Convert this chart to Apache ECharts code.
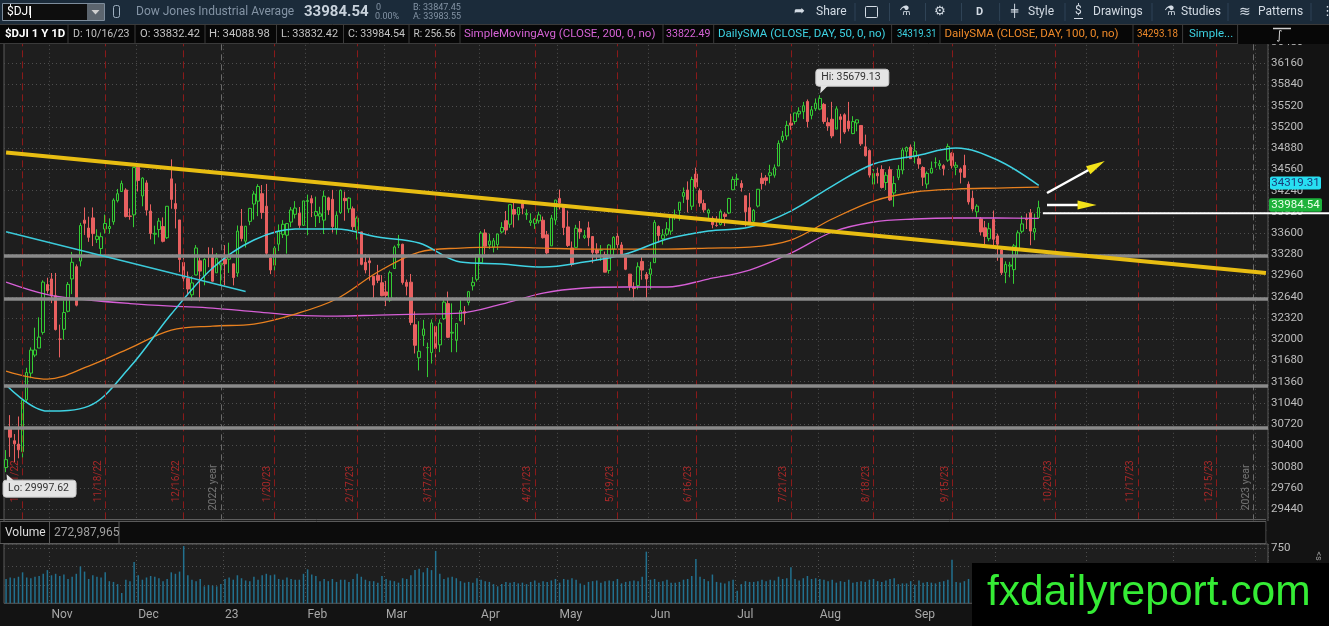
<!DOCTYPE html>
<html><head><meta charset="utf-8">
<script src="https://cdn.jsdelivr.net/npm/echarts/dist/echarts.min.js"></script>
<style>html,body{margin:0;padding:0;background:#131313;overflow:hidden}#c{width:1329px;height:626px}</style>
</head><body><div id="c"></div><script>
// ---------- categories (trading days) ----------
const HOLIDAYS = ['2022-11-24','2022-12-26','2023-01-02','2023-01-16','2023-02-20','2023-04-07','2023-05-29','2023-06-19','2023-07-04','2023-09-04','2023-11-23','2023-12-25','2024-01-01'];
const N_SLOTS = 306;
function buildDates(){const out=[];const d=new Date(Date.UTC(2022,9,17));while(out.length<N_SLOTS){const wd=d.getUTCDay();const s=d.toISOString().slice(0,10);if(wd!==0&&wd!==6&&HOLIDAYS.indexOf(s)<0)out.push(s);d.setUTCDate(d.getUTCDate()+1);}return out;}
const dates = buildDates();
const monthNames = ['23','Feb','Mar','Apr','May','Jun','Jul','Aug','Sep','Oct','Nov','Dec'];

// ---------- daily OHLC [open, high, low, close] ----------
const ohlc = [
// Oct 2022
[30066,30330,29997.62,30185.82],[30649,30857,30227,30523.8],[30471,30571,30148,30423.81],[30420,30836,30206,30333.59],[30305,31120,30207,31082.56],[31087,31570,31049,31499.62],[31490,31878,31413,31836.74],[31762,32175,31730,31839.11],[31868,32331,31868,32033.28],[32104,32889,32070,32861.8],[32825,32928,32689,32732.95],
// Nov
[32910,32999,32545,32653.2],[32656,33000,32132,32147.76],[32002,32221,31727,32001.25],[32150,32584,31995,32403.22],[32422,32863,32406,32827],[32910,33317,32681,33160.83],[33095,33128,32496,32513.94],[33179,33755,33099,33715.37],[33796,33987,33574,33747.86],[33677,33848,33469,33536.7],[33830,33987,33405,33592.92],[33506,33658,33452,33553.83],[33368,33609,33280,33546.32],[33662,33880,33596,33745.69],[33670,33823,33592,33700.28],[33771,34125,33726,34098.1],[34089,34266,34062,34194.06],[34228,34392,34228,34347.03],[34250,34277,33837,33849.46],[33859,33973,33802,33852.53],[33876,34590,33690,34589.77],
// Dec
[34593,34595,34228,34395.01],[34161,34443,34005,34429.88],[34357,34397,33865,33947.1],[33933,34034,33505,33596.34],[33584,33712,33433,33597.92],[33654,33829,33536,33781.48],[33699,33837,33461,33476.46],[33531,34009,33513,34005.04],[34418,34712,33968,34108.64],[34045,34349,33671,33966.35],[33799,33799,33011,33202.22],[33157,33227,32757,32920.46],[32918,33022,32661,32757.54],[32670,32950,32580,32849.74],[32970,33420,32964,33376.48],[33183,33234,32573,33027.49],[32961,33224,32814,33203.93],[33264,33387,33087,33241.56],[33265,33379,32869,32875.71],[33002,33299,33002,33220.8],[33121,33148,32813,33147.25],
// Jan 2023
[33211,33419,32813,33136.37],[33207,33456,32999,33269.77],[33137,33141,32812,32930.08],[32999,33715,32941,33630.61],[33706,33964,33476,33517.65],[33479,33709,33383,33704.1],[33778,33981,33720,33973.01],[34039,34232,33804,34189.97],[34082,34337,33856,34302.61],[34195,34325,33816,33910.85],[34006,34342,33270,33296.96],[33227,33278,32982,33044.56],[33117,33406,32987,33375.49],[33434,33731,33330,33629.56],[33582,33796,33527,33733.96],[33569,33754,33291,33743.84],[33767,33993,33690,33949.41],[33884,34083,33821,33978.08],[33901,33994,33678,33717.09],[33718,34087,33709,34086.04],
// Feb
[34077,34181,33568,34092.96],[34120,34171,33842,34053.94],[33863,34150,33692,33926.01],[33855,33998,33753,33891.02],[33796,34241,33586,34156.69],[34132,34149,33875,33949.01],[34110,34252,33609,33699.88],[33670,33928,33579,33869.27],[33910,34257,33890,34245.93],[34125,34226,33788,34089.27],[33966,34143,33903,34128.05],[33967,34002,33645,33696.85],[33645,33852,33504,33826.69],[33619,33621,33116,33129.59],[33160,33284,32993,33045.09],[33182,33272,32884,33153.91],[32950,32954,32592,32816.92],[32965,33122,32847,32889.09],[32852,32966,32650,32656.7],
// Mar
[32714,32880,32500,32661.84],[32589,33034,32565,33003.57],[33067,33414,33067,33390.97],[33419,33573,33375,33431.44],[33433,33440,32824,32856.46],[32859,32900,32661,32798.4],[32861,32985,32213,32254.86],[32219,32421,31786,31909.64],[31721,32273,31530,31819.14],[32059,32293,31897,32155.4],[31873,31950,31430,31874.57],[31800,32300,31634,32246.55],[32192,32192,31726,31861.98],[31916,32301,31806,32244.58],[32310,32617,32291,32560.6],[32538,32719,32022,32030.11],[32093,32541,31805,32105.25],[31984,32238,31805,32237.53],[32280,32607,32270,32432.08],[32418,32500,32218,32394.25],[32555,32729,32511,32717.6],[32806,32940,32735,32859.03],[32904,33274,32870,33274.15],
// Apr
[33155,33631,33155,33601.15],[33603,33659,33286,33402.38],[33422,33592,33363,33482.72],[33390,33527,33309,33485.29],[33428,33593,33348,33586.52],[33618,33765,33596,33684.79],[33788,33934,33578,33646.5],[33734,34031,33681,34029.69],[33956,34082,33685,33886.47],[33879,33988,33793,33987.18],[34049,34102,33885,33976.63],[33878,33960,33801,33897.01],[33760,33899,33709,33786.62],[33748,33830,33664,33808.96],[33785,33923,33745,33875.4],[33795,33850,33519,33530.83],[33575,33633,33277,33301.87],[33409,33875,33409,33826.16],[33797,34104,33725,34098.16],
// May
[34124,34257,33958,34051.7],[33991,33997,33570,33684.53],[33694,33939,33391,33414.24],[33377,33474,33099,33127.74],[33385,33725,33385,33674.38],[33664,33783,33515,33618.69],[33536,33648,33512,33561.81],[33681,33773,33404,33531.33],[33550,33555,33147,33309.51],[33350,33448,33193,33300.62],[33342,33420,33181,33348.6],[33277,33323,33012,33012.14],[33038,33434,32990,33420.77],[33360,33553,33258,33535.91],[33553,33652,33379,33426.63],[33422,33465,33248,33286.58],[33255,33262,33042,33055.51],[32982,32982,32734,32799.92],[32781,32860,32586,32764.65],[32810,33160,32752,33093.34],[33174,33245,32898,33042.78],[32977,33013,32586,32908.27],
// Jun
[32980,33167,32754,33061.57],[33155,33797,33155,33762.76],[33700,33716,33461,33562.86],[33516,33661,33427,33573.28],[33584,33767,33555,33665.02],[33631,33850,33575,33833.61],[33846,33956,33800,33876.78],[33942,34067,33788,34066.33],[34155,34288,34055,34212.12],[34251,34380,33912,34108.64],[34006,34450,33950,34408.06],[34490,34588,34274,34299.12],[34241,34274,33997,34053.87],[34047,34105,33911,33951.52],[33903,33968,33800,33946.71],[33823,33854,33673,33727.43],[33718,33855,33695,33714.71],[33729,33957,33715,33926.74],[33886,33914,33707,33852.66],[33904,34133,33888,34122.42],[34254,34454,34254,34407.6],
// Jul
[34410,34495,34312,34418.47],[34348,34397,34225,34288.64],[34164,34164,33701,33922.26],[33984,34207,33727,33734.88],[33780,33963,33714,33944.4],[34008,34266,33987,34261.42],[34428,34510,34257,34347.43],[34435,34474,34320,34395.14],[34471,34630,34350,34509.03],[34473,34635,34436,34585.35],[34612,34998,34612,34951.93],[34996,35140,34965,35061.21],[35065,35293,35005,35225.18],[35261,35400,35157,35227.69],[35283,35415,35240,35411.24],[35398,35497,35341,35438.07],[35430,35578,35319,35520.12],[35585,35615,35193,35282.52],[35375,35516,35315,35459.29],[35475,35630,35442,35559.53],
// Aug
[35470,35679.13,35452,35630.68],[35541,35563,35248,35282.72],[35265,35343,35143,35215.89],[35317,35579,35031,35065.62],[35168,35514,35168,35473.13],[35354,35398,34952,35314.49],[35384,35407,35095,35123.36],[35289,35578,35134,35176.15],[35101,35363,35092,35281.4],[35260,35313,35135,35307.63],[35223,35223,34915,34946.39],[34901,35085,34756,34765.74],[34844,34862,34438,34474.83],[34339,34565,34279,34500.66],[34503,34589,34348,34463.69],[34559,34623,34273,34288.83],[34363,34520,34250,34472.98],[34557,34606,34084,34099.42],[34206,34459,33998,34346.9],[34440,34625,34399,34559.98],[34550,34888,34487,34852.67],[34834,34906,34726,34890.24],[34895,34936,34718,34721.91],
// Sep
[34757,34980,34651,34837.71],[34720,34777,34570,34641.97],[34589,34608,34312,34443.19],[34340,34530,34272,34500.73],[34507,34680,34499,34576.59],[34661,34742,34588,34663.72],[34618,34701,34560,34645.99],[34617,34638,34470,34575.53],[34700,34949,34674,34907.11],[34806,34819,34574,34618.24],[34593,34674,34473,34624.3],[34567,34588,34349,34517.73],[34620,34782,34436,34440.88],[34337,34379,34031,34070.42],[34126,34236,33926,33963.84],[33920,34036,33835,34006.88],[33815,33843,33565,33618.88],[33681,33784,33402,33550.27],[33516,33755,33478,33666.34],[33809,33941,33403,33507.5],
// Oct
[33558,33593,33184,33433.35],[33347,33389,32969,33002.38],[33009,33175,32846,33129.55],[33103,33168,32934,33119.57],[33050,33437,32836,33407.58],[33342,33641,33259,33604.65],[33628,33861,33597,33739.3],[33815,33896,33662,33804.87],[33906,33964,33418,33631.14],[33616,33894,33494,33670.29],[33832.42,34088.98,33832.42,33984.54]
];

// ---------- daily volume (millions) ----------
const volume = [
330,350,340,360,420,350,340,360,370,400,450,
380,400,370,390,330,360,400,500,430,330,380,360,350,420,300,290,260,140,320,300,560,
380,320,350,370,360,340,300,330,420,400,430,776,380,320,300,330,230,250,240,230,260,
330,350,320,380,340,310,300,360,320,380,400,380,390,330,320,350,330,320,320,400,
460,390,370,300,330,300,330,290,320,320,290,330,400,360,320,300,300,280,370,
330,310,300,280,340,330,380,450,470,420,480,450,710,400,330,350,360,340,300,280,290,280,340,
320,300,290,260,230,260,290,280,290,270,280,260,290,310,280,300,290,310,330,
280,330,320,340,320,270,250,290,300,310,280,300,310,300,330,270,290,300,310,300,360,700,
320,330,290,300,320,280,280,290,320,330,370,600,360,330,300,390,290,280,270,300,320,
170,260,300,290,290,300,320,300,320,310,360,330,340,490,330,310,340,370,330,340,
330,320,300,320,280,300,290,320,280,290,300,290,320,330,300,290,310,330,340,260,270,270,300,
250,310,280,290,280,270,290,300,320,590,290,280,300,330,320,300,330,320,300,360,
310,330,320,300,300,260,290,280,290,300,273
];

// ---------- moving averages, read every 10 sessions ----------
const SMA_STEP = 10;
const sma50  = [31310,30918,30993,31581,32380,33074,33496,33662,33662,33541,33451,33164,33134,33089,33164,33285,33511,33632,33692,33933,34310,34642,34762,34883,34702,34319.31];
const sma100 = [31521,31400,31597,31868,32139,32199,32229,32380,32607,33014,33315,33375,33390,33375,33360,33360,33360,33375,33390,33496,33813,34084,34220,34265,34280,34293.18];
const sma200 = [32863,32674,32592,32539,32501,32471,32418,32365,32350,32365,32380,32395,32531,32697,32773,32788,32788,32908,33044,33300,33617,33768,33813,33828,33828,33822.49];

// ---------- drawings ----------
const expiries = [['2022-10-21','10/21/22'],['2022-11-18','11/18/22'],['2022-12-16','12/16/22'],['2023-01-20','1/20/23'],['2023-02-17','2/17/23'],['2023-03-17','3/17/23'],['2023-04-21','4/21/23'],['2023-05-19','5/19/23'],['2023-06-16','6/16/23'],['2023-07-21','7/21/23'],['2023-08-18','8/18/23'],['2023-09-15','9/15/23'],['2023-10-20','10/20/23'],['2023-11-17','11/17/23'],['2023-12-15','12/15/23']];
const yearLines = [['2022-12-30','2022 year'],['2023-12-29','2023 year']];
const levels = [33265,32611,31295,30672];
const yellowTrend = [['2022-10-17',34817],['2024-01-04',33000]];
const cyanTrend = [['2022-10-17',33621],['2023-01-10',32721]];
const arrows = [[['2023-10-18',34205],['2023-11-07',34687]],[['2023-10-18',34024],['2023-11-03',34024]]];
const whiteLevel = ['2023-10-17',33900];
const hiPoint = ['2023-08-01',35679.13];
const loPoint = ['2022-10-17',29997.62];

// ---------- build ----------
const candle = ohlc.map(r=>[r[0],r[3],r[2],r[1]]);
const isMonthStart = dates.map((d,i)=> i>0 && d.slice(5,7)!==dates[i-1].slice(5,7));
function monthLabel(v){const m=parseInt(v.slice(5,7),10);return m===1? v.slice(2,4) : monthNames[m-1];}
const smaSeries = arr => arr.map((v,k)=>[dates[k*SMA_STEP>250?250:k*SMA_STEP],v]);

const FONT='Roboto, "Liberation Sans", sans-serif';
const markData = [];
expiries.forEach(e=>markData.push({xAxis:e[0],lineStyle:{color:'#8a1a1a',type:[7,4],width:1},label:{show:true,formatter:e[1],position:'insideStartTop',distance:[28,2],color:'#a82828',fontSize:10,fontFamily:FONT}}));
yearLines.forEach(e=>markData.push({xAxis:e[0],lineStyle:{color:'#6a6a6a',type:[6,4],width:1},label:{show:true,formatter:e[1],position:'insideStartTop',distance:[20,2],color:'#747474',fontSize:10.5,fontFamily:FONT}}));
levels.forEach(v=>markData.push({yAxis:v,lineStyle:{color:'#8a8a8a',type:'solid',width:3.5},label:{show:false}}));
markData.push([{coord:yellowTrend[0]},{coord:yellowTrend[1],lineStyle:{color:'#e8bd12',width:4,type:'solid'},label:{show:false}}]);
markData.push([{coord:cyanTrend[0]},{coord:cyanTrend[1],lineStyle:{color:'#3bc9d9',width:1.5,type:'solid'},label:{show:false}}]);

const gridL=4, gridW=1264;
const chart = echarts.init(document.getElementById('c'),null,{renderer:'canvas'});
const dotted = {color:'#4e4e4e',type:[1,3],width:1};
chart.setOption({
  animation:false,
  backgroundColor:'#131313',
  grid:[
    {left:gridL,width:gridW,top:20.85,height:509.5,show:true,backgroundColor:'#1e1e1e',borderColor:'#5a5a5a',borderWidth:1},
    {left:gridL,width:gridW,top:544,height:59.3,show:true,backgroundColor:'#1e1e1e',borderColor:'#5a5a5a',borderWidth:1}
  ],
  xAxis:[
    {type:'category',gridIndex:0,data:dates,boundaryGap:true,axisLine:{show:false},axisTick:{show:false},axisLabel:{show:false},splitLine:{show:true,interval:(i)=>isMonthStart[i],lineStyle:dotted}},
    {type:'category',gridIndex:1,data:dates,boundaryGap:true,axisLine:{show:false},axisTick:{show:false},
     axisLabel:{show:true,interval:(i)=>isMonthStart[i],formatter:monthLabel,color:'#a8a8a8',fontSize:12,fontFamily:FONT,align:'left',margin:6},
     splitLine:{show:true,interval:(i)=>isMonthStart[i],lineStyle:dotted}}
  ],
  yAxis:[
    {type:'value',gridIndex:0,position:'right',min:29120,max:36800,interval:320,axisLine:{show:false},axisTick:{show:false},
     axisLabel:{color:'#bdbdbd',fontSize:11.5,fontFamily:FONT,margin:3,formatter:v=>(v<29440||v>36480)?'':String(v)},splitLine:{show:true,lineStyle:dotted}},
    {type:'value',gridIndex:1,position:'right',min:0,max:804,interval:250,axisLine:{show:false},axisTick:{show:false},
     axisLabel:{color:'#bdbdbd',fontSize:11.5,fontFamily:FONT,margin:3,formatter:v=>v===750?'750':''},splitLine:{show:true,lineStyle:dotted}}
  ],
  series:[
    {type:'candlestick',xAxisIndex:0,yAxisIndex:0,data:candle,barWidth:3,
     itemStyle:{color:'rgba(0,0,0,0)',color0:'#e86060',borderColor:'#34cc34',borderColor0:'#e86060',borderWidth:1},
     markLine:{symbol:['none','none'],silent:true,animation:false,data:markData}},
    {type:'line',xAxisIndex:0,yAxisIndex:0,data:smaSeries(sma200),showSymbol:false,smooth:0.35,lineStyle:{color:'#d65fd6',width:1.3},z:3},
    {type:'line',xAxisIndex:0,yAxisIndex:0,data:smaSeries(sma100),showSymbol:false,smooth:0.35,lineStyle:{color:'#e8801f',width:1.3},z:3},
    {type:'line',xAxisIndex:0,yAxisIndex:0,data:smaSeries(sma50),showSymbol:false,smooth:0.35,lineStyle:{color:'#3fd3e3',width:1.5},z:3},
    {type:'bar',xAxisIndex:1,yAxisIndex:1,data:volume,barWidth:1.5,itemStyle:{color:'#22718f'}}
  ]
});

// ---------- overlay graphics ----------
const G=[];
function rect(x,y,w,h,fill,stroke,r){G.push({type:'rect',silent:true,z:100,shape:{x:x,y:y,width:w,height:h,r:r||0},style:{fill:fill,stroke:stroke||null,lineWidth:1}});}
function txt(x,y,t,o,sx,rot){G.push({type:'text',silent:true,z:102,x:x,y:y,scaleX:sx||1,rotation:rot||0,style:Object.assign({text:t,fill:'#c4c4c4',font:'11.5px '+FONT,align:'left',verticalAlign:'middle'},o||{})});}
function ln(x1,y1,x2,y2,stroke,w){G.push({type:'line',silent:true,z:101,shape:{x1:x1,y1:y1,x2:x2,y2:y2},style:{stroke:stroke,lineWidth:w||1}});}
function poly(pts,fill){G.push({type:'polygon',silent:true,z:102,shape:{points:pts},style:{fill:fill}});}
const P=(d,v)=>chart.convertToPixel({gridIndex:0},[dates.indexOf(d),v]);

// toolbar
rect(0,0,1329,24,'#1b2b3a');
rect(2.5,3.5,102,17,'#0e0e0e','#7e8d9c');
rect(87,4,17,16,'#5c656e');
poly([[91.5,10],[99.5,10],[95.5,14.5]],'#d0d0d0');
txt(7,12,'$DJI',{fill:'#ffffff',font:'12px '+FONT});
ln(30.5,6,30.5,18,'#ffffff',1);
rect(113.5,5.5,6,12,null,'#9fb0c0',2);
txt(136,12,'Dow Jones Industrial Average',{fill:'#8494a5',font:'12px '+FONT});
txt(304,12.5,'33984.54',{fill:'#c8d2dc',font:'bold 15px '+FONT});
txt(376,7.5,'0',{fill:'#8494a5',font:'9px '+FONT});
txt(375,17,'0.00%',{fill:'#8494a5',font:'9px '+FONT});
txt(413,7.5,'B: 33847.45',{fill:'#8494a5',font:'9px '+FONT});
txt(413,17,'A: 33983.55',{fill:'#8494a5',font:'9px '+FONT});
[855,889.5,925.5,961.5,999.6,1065,1152,1228,1311].forEach(x=>ln(x,3,x,21,'#2f4356',1));
const tb={fill:'#d3dbe4',font:'12px '+FONT};
txt(794,12,'➦',{fill:'#d3dbe4',font:'13px "DejaVu Sans"'});
txt(816,12,'Share',tb);
rect(865.5,6.5,12,11,null,'#d3dbe4',1);
txt(899,12,'⚗',{fill:'#d3dbe4',font:'13px "DejaVu Sans"'});
txt(934,12,'⚙',{fill:'#d3dbe4',font:'13px "DejaVu Sans"'});
txt(976,12,'D',{fill:'#d3dbe4',font:'bold 11px '+FONT});
txt(1011,12,'╪',{fill:'#d3dbe4',font:'12px "DejaVu Sans"'});
txt(1028,12,'Style',tb);
txt(1075,11,'$',{fill:'#d3dbe4',font:'12px '+FONT});
ln(1074,18.5,1083,18.5,'#d3dbe4',1);
txt(1093,12,'Drawings',tb);
txt(1164,12,'⚗',{fill:'#d3dbe4',font:'13px "DejaVu Sans"'});
txt(1181,12,'Studies',tb);
txt(1239,12,'≋',{fill:'#d3dbe4',font:'14px "DejaVu Sans"'});
txt(1258,12,'Patterns',tb);
txt(1321,12,'⋮',{fill:'#d3dbe4',font:'13px "DejaVu Sans"'});

// header row
rect(0,24,1329,20,'#070707');
ln(0,24.5,1329,24.5,'#3a3a3a');ln(0,43.5,1238,43.5,'#3a3a3a');
[68,135,205,276.5,343.5,409,460,663,713.7,891.6,940,1133,1182.6,1237.6].forEach(x=>ln(x,24,x,44,'#3c3c3c',1));
txt(5,34,'$DJI 1 Y 1D',{fill:'#ffffff',font:'bold 11.5px '+FONT});
txt(73,34,'D: 10/16/23',null,0.92);txt(140,34,'O: 33832.42',null,0.97);txt(209,34,'H: 34088.98',null,0.98);txt(281,34,'L: 33832.42',null,0.95);txt(348,34,'C: 33984.54',null,0.93);txt(413.5,34,'R: 256.56',null,0.88);
txt(464,34,'SimpleMovingAvg (CLOSE, 200, 0, no)',{fill:'#d563d5'});txt(666,34,'33822.49',{fill:'#d563d5'},0.92);
txt(718,34,'DailySMA (CLOSE, DAY, 50, 0, no)',{fill:'#3ed3e3'});txt(897,34,'34319.31',{fill:'#3ed3e3'},0.82);
txt(944.5,34,'DailySMA (CLOSE, DAY, 100, 0, no)',{fill:'#ef8a2a'});txt(1137,34,'34293.18',{fill:'#ef8a2a'},0.85);
txt(1189,34,'Simple...',{fill:'#3ed3e3'});
ln(1273,28.5,1291,28.5,'#d0d0d0',1.5);txt(1276,36,'∫',{fill:'#d0d0d0',font:'12px "DejaVu Sans"'});

// price pane bottom + volume header
ln(0,519.5,1266,519.5,'#5e5e5e',1);
rect(0,521.5,1266,22,'#0c0c0c','#5a5a5a');
ln(49.5,522,49.5,543,'#5a5a5a');ln(119,522,119,543,'#5a5a5a');
txt(5,533,'Volume',{fill:'#dddddd',font:'12px '+FONT});
txt(54,533,'272,987,965',{fill:'#a0a0a0',font:'12px '+FONT});
rect(1266.5,521,62.5,20,'#131313');
txt(1318,556,'<s',{fill:'#9a9a9a',font:'9px '+FONT,align:'center'},1,-Math.PI/2);

// hi / lo callouts, arrows, value boxes
(function(){
  const h=P(hiPoint[0],hiPoint[1]);
  rect(h[0]-4,h[1]-26,73,17,'#e4e4e4','#c8c8c8',3);
  poly([[h[0]+1,h[1]-9.5],[h[0]+8,h[1]-9.5],[h[0]+0.5,h[1]-2]],'#e4e4e4');
  txt(h[0]+1.5,h[1]-17.5,'Hi: '+hiPoint[1].toFixed(2),{fill:'#333333',font:'10.5px '+FONT});
  const l=P(loPoint[0],loPoint[1]);
  rect(l[0]-3,l[1]+8,73,17,'#e4e4e4','#c8c8c8',3);
  poly([[l[0]+1,l[1]+8.5],[l[0]+8,l[1]+8.5],[l[0]+0.5,l[1]+2]],'#e4e4e4');
  txt(l[0]+2,l[1]+16.5,'Lo: '+loPoint[1].toFixed(2),{fill:'#333333',font:'10.5px '+FONT});
  arrows.forEach(a=>{
    const p1=P(a[0][0],a[0][1]),p2=P(a[1][0],a[1][1]);
    const dx=p2[0]-p1[0],dy=p2[1]-p1[1],L=Math.hypot(dx,dy),ux=dx/L,uy=dy/L,nx=-uy,ny=ux,hl=19,hw=4.5;
    const bx=p2[0]-ux*hl,by=p2[1]-uy*hl;
    ln(p1[0],p1[1],bx+ux*2,by+uy*2,'#ffffff',2.5);
    poly([[p2[0],p2[1]],[bx+nx*hw,by+ny*hw],[bx-nx*hw,by-ny*hw]],'#f2e21a');
  });
  const w=P(whiteLevel[0],whiteLevel[1]);
  ln(w[0],w[1],1329,w[1],'#ffffff',2);
  const c=P(dates[0],sma50[sma50.length-1]);
  rect(1270,c[1]-8.8,51,13,'#27dff2',null,2);
  txt(1295.5,c[1]-2.3,sma50[sma50.length-1].toFixed(2),{fill:'#1a3b78',align:'center'});
  const g=P(dates[0],ohlc[ohlc.length-1][3]);
  rect(1269,g[1]-9.3,53,13.4,'#1db33b',null,2);
  txt(1295.5,g[1]-2.6,ohlc[ohlc.length-1][3].toFixed(2),{fill:'#eaffea',align:'center'});
})();

// watermark
rect(972,563,357,63,'#000000');
txt(987,593,'fxdailyreport.com',{fill:'#35ec35',font:'42.5px "Liberation Sans", Arial, sans-serif'});

chart.setOption({graphic:{elements:G}});
</script></body></html>
